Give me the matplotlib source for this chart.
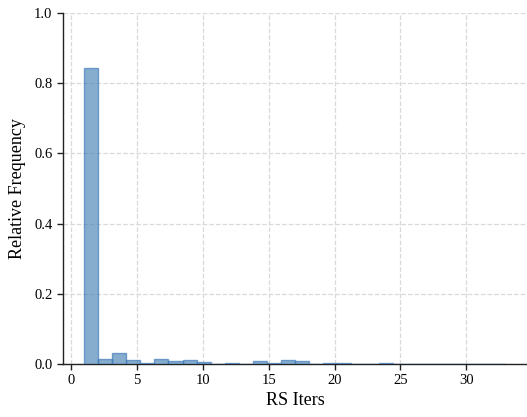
import matplotlib
matplotlib.use("Agg")
import matplotlib.pyplot as plt
import numpy as np

plt.rcParams['font.family'] = ['Liberation Serif', 'DejaVu Serif']

# Histogram data (relative frequency per bin), 30 bins on [1, 33]
bin_lo = 1.0
bin_hi = 33.0
n_bins = 30
rel_freq = [0.843, 0.015, 0.032, 0.011, 0.003, 0.015, 0.009, 0.011, 0.005, 0.0,
            0.004, 0.001, 0.008, 0.002, 0.011, 0.009, 0.0, 0.003, 0.003, 0.0,
            0.0, 0.002, 0.0, 0.0, 0.001, 0.0, 0.0, 0.0, 0.0, 0.0005]
x_ticks = [0, 5, 10, 15, 20, 25, 30]
y_ticks = [0.0, 0.2, 0.4, 0.6, 0.8, 1.0]
x_label = "RS Iters"
y_label = "Relative Frequency"

edges = np.linspace(bin_lo, bin_hi, n_bins + 1)
centers = (edges[:-1] + edges[1:]) / 2

fig = plt.figure(figsize=(5.27, 4.17), dpi=100)
ax = fig.add_axes([63/527, 53/417, 1 - 63/527, 351/417])

ax.hist(centers, bins=edges, weights=rel_freq, color='#4682B4', alpha=0.65,
        edgecolor='#3a78b8', linewidth=1.0, zorder=3)

ax.set_ylim(0, 1.0)
ax.set_yticks(y_ticks)
ax.set_xticks(x_ticks)
ax.grid(True, linestyle='--', color='#d9d9d9', linewidth=0.9, zorder=0)
ax.set_axisbelow(True)
for s in ['top', 'right']:
    ax.spines[s].set_visible(False)
for s in ['left', 'bottom']:
    ax.spines[s].set_color('#222222')
    ax.spines[s].set_linewidth(1.0)
ax.tick_params(axis='both', labelsize=10.5, length=4, width=1.0, color='#222222')
ax.set_xlabel(x_label, fontsize=13, labelpad=3)
ax.set_ylabel(y_label, fontsize=13, labelpad=6)

fig.savefig("out.png", dpi=100)
